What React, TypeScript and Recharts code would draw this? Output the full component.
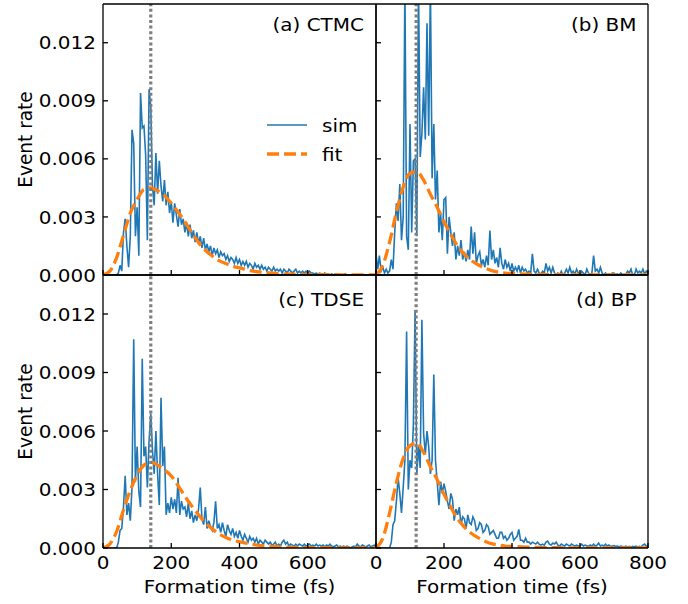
import React from 'react'
import { LineChart, Line, XAxis, YAxis, ReferenceLine, Legend } from 'recharts'

const W = 688
const H = 604
const FONT = '"DejaVu Sans", sans-serif'
const FS = 18.5
// the source image is a bit wider than tall, so text gets a small horizontal stretch
const SX = 1.08

const SIM_COLOR = '#1f77b4'
const FIT_COLOR = '#ff7f0e'
const legendOrder = ['sim', 'fit']

// 5 fs bins, 0..800 fs
const simTimes = Array.from({ length: 161 }, (_, i) => i * 5)
const fitTimes = [
  0, 20, 40, 60, 80, 100, 120, 140, 160, 180, 200, 220, 240, 260, 280, 300,
  320, 340, 360, 380, 400, 440, 480, 520, 560, 600, 700, 800,
]
const xTicks = [0, 200, 400, 600, 800]
const yTicks = [0, 0.003, 0.006, 0.009, 0.012]

// all rates below are in units of 1e-3
const simCtmc = [
  0, 0, 0, 0, 0, 0, 0, 0, 0, 0.1,
  0.5, 0.2, 2.2, 2.9, 1.5, 0.4, 2.0, 7.5, 6.8, 2.0,
  3.5, 1.0, 9.4, 7.6, 7.7, 6.2, 1.8, 9.6, 8.7, 4.6,
  3.6, 6.3, 4.2, 5.9, 4.6, 3.8, 4.9, 3.6, 4.3, 3.2,
  3.8, 2.7, 3.7, 3.1, 2.5, 3.4, 2.6, 2.9, 2.2, 2.7,
  2.0, 2.6, 1.9, 2.3, 1.7, 2.2, 1.6, 2.0, 1.4, 1.9,
  1.3, 1.6, 1.2, 1.5, 1.0, 1.4, 1.1, 1.3, 0.9, 1.2,
  1.0, 1.1, 0.8, 1.0, 0.7, 0.9, 0.8, 0.6, 0.9, 0.6,
  0.8, 0.5, 0.7, 0.5, 0.7, 0.4, 0.6, 0.5, 0.3, 0.6,
  0.4, 0.5, 0.3, 0.5, 0.3, 0.4, 0.2, 0.4, 0.3, 0.2,
  0.4, 0.2, 0.3, 0.2, 0.3, 0.1, 0.3, 0.2, 0.1, 0.3,
  0.2, 0.1, 0.2, 0.3, 0.1, 0.2, 0.1, 0.2, 0.1, 0.2,
  0.1, 0.2, 0.1, 0.1, 0.05, 0.1, 0.05, 0.1, 0.05, 0,
  0.1, 0, 0.05, 0, 0.05, 0, 0.05, 0, 0, 0,
  0, 0, 0.05, 0, 0, 0, 0, 0, 0, 0,
  0, 0, 0, 0, 0, 0, 0, 0, 0, 0,
  0,
]
const fitCtmc = [
  0, 0.2, 0.9, 2.05, 3.2, 3.9, 4.42, 4.5, 4.35, 4.1, 3.7, 3.25, 2.75, 2.2,
  1.68, 1.28, 0.98, 0.74, 0.59, 0.45, 0.37, 0.2, 0.12, 0.07, 0.04, 0.02, 0.01, 0,
]

const simBm = [
  1.1, 0.3, 1.0, 0.2, 0.4, 0.1, 0.3, 0.1, 0.2, 0.8,
  0.3, 2.2, 3.7, 2.8, 4.7, 1.8, 3.0, 15, 2.0, 1.3,
  7.8, 2.2, 5.9, 6.0, 2.0, 15, 6.1, 7.3, 9.7, 7.0,
  13.0, 7.2, 15, 5.0, 7.8, 3.9, 5.4, 2.2, 3.2, 1.8,
  3.9, 4.0, 1.1, 3.0, 2.2, 1.5, 2.2, 0.8, 1.5, 1.0,
  1.8, 0.8, 1.2, 0.7, 1.3, 0.8, 2.5, 1.1, 2.2, 0.6,
  1.0, 1.2, 0.5, 0.8, 0.4, 1.0, 0.5, 2.3, 0.8, 1.3,
  0.6, 0.9, 0.4, 1.4, 0.6, 0.3, 0.8, 0.4, 0.6, 0.2,
  0.6, 0.2, 0.4, 0.2, 0.5, 0.1, 0.4, 0.2, 0.3, 0.1,
  0.2, 0.1, 1.1, 0.2, 0.1, 0.3, 0.1, 0.05, 0.2, 0.1,
  0.6, 0.2, 0.4, 0.1, 0.4, 0.1, 0, 0.1, 0, 0.2,
  0, 0.1, 0.3, 0.1, 0.4, 0.1, 0.2, 0.05, 0.3, 0.1,
  0, 0.2, 0.1, 0, 0.3, 0.1, 0, 0.1, 1.0, 0.2,
  0.3, 0.1, 0.4, 0.1, 0, 0.1, 0, 0.05, 0, 0.1,
  0.1, 0, 0.05, 0, 0.1, 0, 0, 0.05, 0.2, 0.1,
  0.3, 0, 0, 0.3, 0.1, 0.2, 0.1, 0.3, 0.05, 0.2,
  0.1,
]
const fitBm = [
  0, 0.5, 1.7, 3.25, 4.55, 5.25, 5.33, 4.9, 4.17, 3.5, 2.75, 2.1, 1.5, 1.07,
  0.76, 0.53, 0.36, 0.23, 0.15, 0.1, 0.08, 0.05, 0.03, 0.02, 0.01, 0.01, 0, 0,
]

const simTdse = [
  0, 0, 0, 0, 0, 0, 0, 0, 0, 0.3,
  0.9, 1.0, 2.1, 3.7, 1.7, 2.3, 1.4, 3.1, 10.7, 3.4,
  5.2, 2.9, 2.1, 9.7, 4.7, 5.2, 3.1, 5.5, 6.9, 5.0,
  3.8, 6.0, 3.8, 2.2, 7.7, 4.2, 5.2, 1.7, 2.3, 1.8,
  2.6, 2.0, 2.5, 1.8, 3.6, 1.7, 2.4, 2.0, 2.1, 1.6,
  2.3, 1.5, 1.9, 1.3, 1.7, 1.4, 2.0, 3.1, 1.5, 1.2,
  2.1, 1.0, 1.4, 1.1, 0.9, 1.3, 2.4, 1.0, 1.2, 0.8,
  1.3, 0.9, 0.6, 1.2, 0.9, 0.7, 1.0, 0.6, 0.8, 0.5,
  0.9, 0.6, 0.4, 0.7, 0.5, 0.3, 0.6, 0.4, 0.5, 0.3,
  0.5, 0.2, 0.4, 0.3, 0.2, 0.4, 0.3, 0.2, 0.3, 0.15,
  0.2, 0.3, 0.1, 0.2, 0.1, 0.3, 0.4, 0.2, 0.3, 0.1,
  0.2, 0.15, 0.1, 0.2, 0.1, 0.2, 0.15, 0.1, 0.2, 0.1,
  0.15, 0.2, 0.1, 0.15, 0.1, 0.2, 0.1, 0.15, 0.1, 0.15,
  0.05, 0.15, 0.1, 0.2, 0.1, 0.05, 0.1, 0.15, 0.05, 0.1,
  0.05, 0.1, 0.05, 0.1, 0.05, 0, 0.05, 0.1, 0.05, 0.2,
  0.1, 0.05, 0.15, 0.1, 0.05, 0.1, 0.15, 0.05, 0.1, 0.15,
  0.1,
]
const fitTdse = [
  0, 0.2, 0.85, 1.95, 2.95, 3.75, 4.25, 4.4, 4.25, 4.0, 3.7, 3.2, 2.65, 2.15,
  1.7, 1.3, 0.98, 0.72, 0.54, 0.4, 0.32, 0.18, 0.1, 0.06, 0.03, 0.02, 0.01, 0,
]

const simBp = [
  0, 0, 0, 0, 0, 0, 0, 0, 0, 0.3,
  1.2, 1.4, 2.4, 3.6, 2.8, 1.8, 3.1, 4.5, 11.1, 3.0,
  4.5, 4.1, 6.4, 12.2, 3.8, 5.2, 4.1, 11.7, 5.9, 4.8,
  6.0, 5.2, 3.8, 4.5, 8.9, 4.5, 3.4, 2.2, 3.4, 2.8,
  3.3, 2.9, 2.4, 2.0, 2.8, 2.5, 1.4, 2.0, 1.7, 2.1,
  1.2, 1.6, 1.5, 1.0, 1.7, 1.3, 1.2, 1.6, 1.4, 0.9,
  1.0, 1.3, 1.2, 0.8, 0.9, 1.2, 1.1, 0.7, 0.8, 0.9,
  0.7, 0.5, 0.5, 0.8, 0.8, 0.5, 0.6, 0.4, 0.5, 0.7,
  0.8, 0.4, 0.5, 0.6, 0.95, 0.4, 0.4, 0.3, 0.5, 0.3,
  0.3, 0.2, 0.3, 0.25, 0.2, 0.3, 0.2, 0.15, 0.2, 0.15,
  0.3, 0.35, 0.2, 0.15, 0.25, 0.2, 0.3, 0.15, 0.1, 0.2,
  0.15, 0.1, 0.2, 0.15, 0.1, 0.2, 0.15, 0.1, 0.15, 0.1,
  0.12, 0.2, 0.1, 0.15, 0.12, 0.08, 0.15, 0.1, 0.2, 0.1,
  0.15, 0.25, 0.1, 0.15, 0.1, 0.2, 0.1, 0.15, 0.08, 0.1,
  0.12, 0.08, 0.1, 0.05, 0.1, 0.08, 0.05, 0.1, 0.05, 0.08,
  0.05, 0.08, 0.05, 0.1, 0.05, 0.08, 0.05, 0.15, 0.2, 0.1,
  0.05,
]
const fitBp = [
  0, 0.5, 1.8, 3.35, 4.6, 5.25, 5.38, 4.9, 4.17, 3.5, 2.75, 2.1, 1.5, 1.07,
  0.76, 0.53, 0.35, 0.22, 0.15, 0.1, 0.08, 0.05, 0.03, 0.02, 0.01, 0.01, 0, 0,
]

// dotted guide positions (fs)
const markTimes = { ctmc: 140, bm: 118, tdse: 140, bp: 118 }

function toRows(times: number[], vals: number[]) {
  return vals.map((v, i) => ({ t: times[i], v: v / 1000 }))
}

const bottomTick = (show: boolean, skipLast: boolean) => (p: any) => {
  const v = p.payload.value
  if (!show || (skipLast && v === 800)) return <g />
  return (
    <text
      transform={`translate(${p.x} ${p.y}) scale(${SX} 1)`}
      textAnchor="middle"
      dy="0.71em"
      fontSize={FS}
      fontFamily={FONT}
      fill="#000"
    >
      {v}
    </text>
  )
}

const leftTick = (show: boolean) => (p: any) => {
  if (!show) return <g />
  return (
    <text
      transform={`translate(${p.x} ${p.y}) scale(${SX} 1)`}
      textAnchor="end"
      dy="0.355em"
      fontSize={FS}
      fontFamily={FONT}
      fill="#000"
    >
      {Number(p.payload.value).toFixed(3)}
    </text>
  )
}

function SimFitLegend(props: any) {
  const items = [...(props.payload ?? [])].sort(
    (a: any, b: any) => legendOrder.indexOf(a.value) - legendOrder.indexOf(b.value)
  )
  return (
    <svg width={120} height={60} style={{ overflow: 'visible' }}>
      {items.map((it: any, i: number) => (
        <g key={it.value} transform={`translate(0 ${9 + i * 29})`}>
          <line
            x1={0}
            x2={40}
            y1={0}
            y2={0}
            stroke={it.color}
            strokeWidth={it.payload?.strokeWidth ?? 1.6}
            strokeDasharray={it.payload?.strokeDasharray}
          />
          <text
            transform={`translate(55 6.5) scale(${SX} 1)`}
            fontSize={FS}
            fontFamily={FONT}
            fill="#000"
          >
            {it.value}
          </text>
        </g>
      ))}
    </svg>
  )
}

type Box = { x0: number; y0: number; x1: number; y1: number }

interface PanelProps {
  sim: number[]
  fit: number[]
  mark: number
  box: Box
  xLabels: boolean
  yLabels: boolean
  skipLast: boolean
  legend?: boolean
}

function Panel({ sim, fit, mark, box, xLabels, yLabels, skipLast, legend }: PanelProps) {
  const simRows = toRows(simTimes, sim)
  const fitRows = toRows(fitTimes, fit)
  const margin = {
    left: box.x0 - 40,
    right: W - box.x1 - 10,
    top: box.y0 - 4,
    bottom: H - box.y1 - 20,
  }
  const frame = { stroke: '#000', strokeWidth: 1.3 }

  return (
    <div style={{ position: 'absolute', left: 0, top: 0 }}>
      <LineChart width={W} height={H} margin={margin}>
        <XAxis
          xAxisId="b"
          type="number"
          dataKey="t"
          domain={[0, 800]}
          allowDataOverflow
          ticks={xTicks}
          interval={0}
          orientation="bottom"
          height={20}
          tickSize={-5}
          tickMargin={13}
          axisLine={frame}
          tickLine={frame}
          tick={bottomTick(xLabels, skipLast)}
        />
        <XAxis
          xAxisId="t"
          type="number"
          dataKey="t"
          domain={[0, 800]}
          allowDataOverflow
          ticks={xTicks}
          interval={0}
          orientation="top"
          height={4}
          tickSize={-5}
          axisLine={frame}
          tickLine={frame}
          tick={false}
        />
        <YAxis
          yAxisId="l"
          type="number"
          domain={[0, 0.014]}
          allowDataOverflow
          ticks={yTicks}
          interval={0}
          orientation="left"
          width={40}
          tickSize={-5}
          tickMargin={12}
          axisLine={frame}
          tickLine={frame}
          tick={leftTick(yLabels)}
        />
        <YAxis
          yAxisId="r"
          type="number"
          domain={[0, 0.014]}
          allowDataOverflow
          ticks={yTicks}
          interval={0}
          orientation="right"
          width={10}
          tickSize={-5}
          axisLine={frame}
          tickLine={frame}
          tick={false}
        />
        <Line
          xAxisId="b"
          yAxisId="l"
          data={simRows}
          dataKey="v"
          name="sim"
          type="linear"
          stroke={SIM_COLOR}
          strokeWidth={1.6}
          dot={false}
          activeDot={false}
          isAnimationActive={false}
        />
        <Line
          xAxisId="b"
          yAxisId="l"
          data={fitRows}
          dataKey="v"
          name="fit"
          type="monotone"
          stroke={FIT_COLOR}
          strokeWidth={3.3}
          strokeDasharray="12 5"
          dot={false}
          activeDot={false}
          isAnimationActive={false}
        />
        <ReferenceLine
          xAxisId="b"
          yAxisId="l"
          x={mark}
          stroke="#7f7f7f"
          strokeWidth={3.2}
          strokeDasharray="3 2.6"
        />
        {legend && (
          <Legend
            layout="vertical"
            align="center"
            verticalAlign="middle"
            wrapperStyle={{ left: 267, top: 116, width: 120, height: 60 }}
            content={SimFitLegend}
          />
        )}
      </LineChart>
    </div>
  )
}

const textProps = { fontSize: FS, fontFamily: FONT, fill: '#000' }

function Titles() {
  return (
    <svg
      width={W}
      height={H}
      style={{ position: 'absolute', left: 0, top: 0, pointerEvents: 'none' }}
    >
      <text transform={`translate(31.5 139.5) scale(${SX} 1) rotate(-90)`} textAnchor="middle" {...textProps}>
        Event rate
      </text>
      <text transform={`translate(31.5 411.5) scale(${SX} 1) rotate(-90)`} textAnchor="middle" {...textProps}>
        Event rate
      </text>
      <text transform={`translate(239.5 593) scale(${SX} 1)`} textAnchor="middle" {...textProps}>
        Formation time (fs)
      </text>
      <text transform={`translate(512 593) scale(${SX} 1)`} textAnchor="middle" {...textProps}>
        Formation time (fs)
      </text>
      <text transform={`translate(364 31) scale(${SX} 1)`} textAnchor="end" {...textProps}>
        (a) CTMC
      </text>
      <text transform={`translate(636.5 31) scale(${SX} 1)`} textAnchor="end" {...textProps}>
        (b) BM
      </text>
      <text transform={`translate(364 305.5) scale(${SX} 1)`} textAnchor="end" {...textProps}>
        (c) TDSE
      </text>
      <text transform={`translate(636.5 305.5) scale(${SX} 1)`} textAnchor="end" {...textProps}>
        (d) BP
      </text>
    </svg>
  )
}

export default function App() {
  return (
    <div
      style={{
        position: 'absolute',
        left: 0,
        top: 0,
        width: W,
        height: H,
        background: '#fff',
        fontFamily: FONT,
      }}
    >
      <Panel
        sim={simCtmc}
        fit={fitCtmc}
        mark={markTimes.ctmc}
        box={{ x0: 103, y0: 4, x1: 376, y1: 275 }}
        xLabels={false}
        yLabels
        skipLast
        legend
      />
      <Panel
        sim={simBm}
        fit={fitBm}
        mark={markTimes.bm}
        box={{ x0: 376, y0: 4, x1: 648, y1: 275 }}
        xLabels={false}
        yLabels={false}
        skipLast={false}
      />
      <Panel
        sim={simTdse}
        fit={fitTdse}
        mark={markTimes.tdse}
        box={{ x0: 103, y0: 275, x1: 376, y1: 548 }}
        xLabels
        yLabels
        skipLast
      />
      <Panel
        sim={simBp}
        fit={fitBp}
        mark={markTimes.bp}
        box={{ x0: 376, y0: 275, x1: 648, y1: 548 }}
        xLabels
        yLabels={false}
        skipLast={false}
      />
      <Titles />
    </div>
  )
}
